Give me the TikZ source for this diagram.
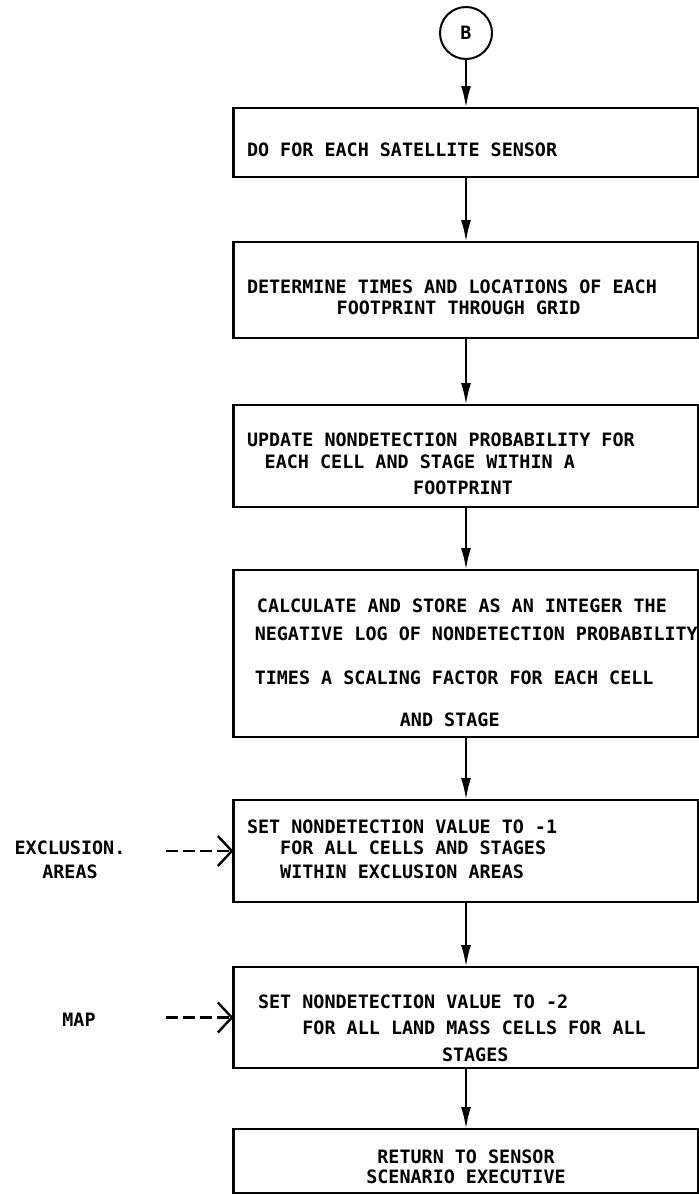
\documentclass[tikz,border=0pt]{standalone}
\usepackage{fontspec}
\newfontfamily\chartfont{DejaVu Sans Mono}
\usetikzlibrary{positioning,arrows.meta}

\newlength\chw
\setlength\chw{5.54pt}
\newcommand{\indnt}[1]{\hspace*{#1\chw}}
% monospaced word space: one full character cell
\newcommand{\monospace}{\spaceskip=\chw\relax\xspaceskip=\chw\relax}

\begin{document}
\begin{tikzpicture}[
  node distance = 32pt,
  font          = \chartfont\bfseries\fontsize{9.2pt}{10.5pt}\selectfont,
  execute at begin node = \monospace,
  procbox/.style = {draw, line width=1.3pt, outer sep=0pt,
                    minimum width=232.5pt, text width=219pt,
                    inner xsep=6.75pt, inner ysep=1pt,
                    align=left, text height=14.9pt},
  connector/.style = {draw, circle, line width=1pt, minimum size=26pt,
                      inner sep=0pt, outer sep=0pt},
  flow/.style   = {-{Latex[length=11pt,width=5pt]}, line width=1.2pt},
  feed/.style   = {-{Straight Barb[length=7pt,width=15pt]}, line width=1.2pt,
                   dash pattern=on 6pt off 2.5pt},
]
\useasboundingbox (0,0) rectangle (349.5pt,-597.5pt);

% Entry connector
\node[connector] (cB) at (233pt,-16.5pt) {B};

% Main column
\node[procbox, minimum height=34.5pt, text height=14.4pt,
      below=24.5pt of cB] (b1) {DO FOR EACH SATELLITE SENSOR};
\node[procbox, minimum height=48pt, text height=14.4pt,
      below=32.5pt of b1] (b2)
  {DETERMINE TIMES AND LOCATIONS OF EACH\\\indnt{8.1}FOOTPRINT THROUGH GRID};
\node[procbox, minimum height=51pt, text height=14.9pt,
      below=33.5pt of b2] (b3)
  {UPDATE NONDETECTION PROBABILITY FOR\\[0.5pt]\indnt{1.6}EACH CELL AND STAGE WITHIN A\\[2.5pt]\indnt{15}FOOTPRINT};
\node[procbox, minimum height=83.5pt, text height=16.4pt,
      below=31.5pt of b3] (b4)
  {\indnt{0.9}CALCULATE AND STORE AS AN INTEGER THE\\[3.5pt]\mbox{\indnt{0.7}NEGATIVE LOG OF NONDETECTION PROBABILITY}\\[11.5pt]\indnt{0.7}TIMES A SCALING FACTOR FOR EACH CELL\\[10.5pt]\indnt{13.8}AND STAGE};
\node[procbox, minimum height=51pt, text height=5.4pt,
      below=31.5pt of b4] (b5)
  {SET NONDETECTION VALUE TO -1\\\indnt{3}FOR ALL CELLS AND STAGES\\[1.5pt]\indnt{3}WITHIN EXCLUSION AREAS};
\node[procbox, minimum height=50.5pt, text height=17.9pt,
      below=32.5pt of b5] (b6)
  {\indnt{1}SET NONDETECTION VALUE TO -2\\[2.5pt]\indnt{5}FOR ALL LAND MASS CELLS FOR ALL\\[3pt]\indnt{17.6}STAGES};
\node[procbox, minimum height=32pt, text height=12.9pt, align=center,
      below=30.5pt of b6] (b7)
  {RETURN TO SENSOR\\[-0.5pt]SCENARIO EXECUTIVE};

% Side inputs
\node[align=center] (exl) at (35pt,-430pt) {EXCLUSION.\\[1.5pt]AREAS};
\node (map) at (39.5pt,-510pt) {MAP};

% Flow
\draw[flow] (cB) -- (b1);
\draw[flow] (b1) -- (b2);
\draw[flow] (b2) -- (b3);
\draw[flow] (b3) -- (b4);
\draw[flow] (b4) -- (b5);
\draw[flow] (b5) -- (b6);
\draw[flow] (b6) -- (b7);

% Dashed inputs
\draw[feed, shorten <=17pt] (exl.east |- b5.west) -- (b5.west);
\draw[feed, shorten <=31.5pt] (map.east |- b6.west) -- (b6.west);

\end{tikzpicture}
\end{document}
